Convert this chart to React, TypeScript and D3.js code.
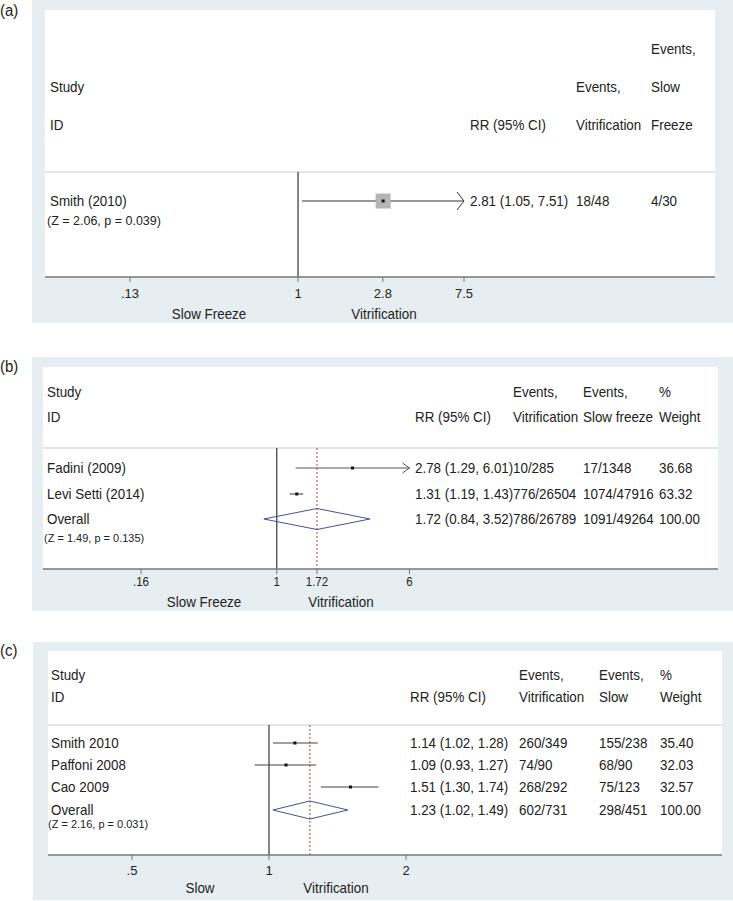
import React from "react";
import * as d3 from "d3";

// ---------- DATA ----------
// Panel (a)
const studiesA = ["Smith (2010)"];
const rrA = [2.81];
const lowA = [1.05];
const highA = [7.51];
const vitA = ["18/48"];
const slowA = ["4/30"];
const zA = "(Z = 2.06, p = 0.039)";
const ticksA = [0.13, 1, 2.8, 7.5];
const tickLabelsA = [".13", "1", "2.8", "7.5"];

// Panel (b)
const studiesB = ["Fadini (2009)", "Levi Setti (2014)"];
const rrB = [2.78, 1.31];
const lowB = [1.29, 1.19];
const highB = [6.01, 1.43];
const vitB = ["10/285", "776/26504"];
const slowB = ["17/1348", "1074/47916"];
const weightB = ["36.68", "63.32"];
const overallB = [1.72, 0.84, 3.52];
const overallTextB = ["786/26789", "1091/49264", "100.00"];
const zB = "(Z = 1.49, p = 0.135)";
const ticksB = [0.16, 1, 1.72, 6];
const tickLabelsB = [".16", "1", "1.72", "6"];

// Panel (c)
const studiesC = ["Smith 2010", "Paffoni 2008", "Cao 2009"];
const rrC = [1.14, 1.09, 1.51];
const lowC = [1.02, 0.93, 1.3];
const highC = [1.28, 1.27, 1.74];
const vitC = ["260/349", "74/90", "268/292"];
const slowC = ["155/238", "68/90", "75/123"];
const weightC = ["35.40", "32.03", "32.57"];
const overallC = [1.23, 1.02, 1.49];
const overallTextC = ["602/731", "298/451", "100.00"];
const zC = "(Z = 2.16, p = 0.031)";
const ticksC = [0.5, 1, 2];
const tickLabelsC = [".5", "1", "2"];

const fmt = (v: number) => v.toFixed(2);
const FONT = "'Liberation Sans', Arial, sans-serif";
const BG = "#e6eef1";
const SX = 0.95;

function T(props: { x: number; y: number; size: number; anchor?: string; children: React.ReactNode }) {
  return (
    <text
      transform={`translate(${props.x},${props.y}) scale(${SX},1)`}
      dy="0.35em"
      fontSize={props.size / SX}
      textAnchor={props.anchor || "start"}
    >
      {props.children}
    </text>
  );
}

type Col = { x: number; lines: string[] };

type PanelProps = {
  label: string;
  labelY: number;
  outer: [number, number, number, number];
  inner: [number, number, number, number];
  headerYs: number[];
  headerCols: Col[];
  studyX: number;
  rrX: number;
  dataXs: number[];
  sepY: number;
  rowYs: number[];
  zY: number;
  tickY: number;
  titleY: number;
  titleXs: [number, number];
  titles: [string, string];
  domain: [number, number];
  range: [number, number];
  ticks: number[];
  tickLabels: string[];
  tickFont: number;
  zFont: number;
  studies: string[];
  rr: number[];
  lo: number[];
  hi: number[];
  cols: string[][];
  overall?: number[];
  overallText?: string[];
  overallYs?: number;
  diamondH?: number;
  zText: string;
  bigBox?: boolean;
  arrowH: number;
  ciColor: string;
};

function Panel(p: PanelProps) {
  const x = d3.scaleLog().domain(p.domain).range(p.range);
  const [ox0, oy0, ox1, oy1] = p.outer;
  const [ix0, iy0, ix1, axisY] = p.inner;
  const fs = 13.4;
  const maxV = p.domain[1];
  const minV = p.domain[0];
  return (
    <g fontFamily={FONT} fill="#222">
      <T x={0} y={p.labelY} size={15}>
        {p.label}
      </T>
      <rect x={ox0} y={oy0} width={ox1 - ox0} height={oy1 - oy0} fill={BG} />
      <rect x={ix0} y={iy0} width={ix1 - ix0} height={axisY - iy0} fill="#fff" />
      {p.headerCols.map((c, ci) =>
        c.lines.map((t, li) =>
          t ? (
            <T key={`h${ci}-${li}`} x={c.x} y={p.headerYs[li]} size={fs}>
              {t}
            </T>
          ) : null
        )
      )}
      <line x1={ix0} x2={ix1} y1={p.sepY} y2={p.sepY} stroke="#d9dee0" strokeWidth={1.5} />
      <line x1={x(1)} x2={x(1)} y1={p.sepY} y2={axisY} stroke="#444" strokeWidth={1.3} />
      {p.overall && (
        <line
          x1={x(p.overall[0])}
          x2={x(p.overall[0])}
          y1={p.sepY}
          y2={axisY}
          stroke="#c0392b"
          strokeWidth={1}
          strokeDasharray="2,2"
        />
      )}
      {p.studies.map((s, i) => {
        const y = p.rowYs[i];
        const lo = Math.max(p.lo[i], minV);
        const hiClip = p.hi[i] > maxV;
        const hi = Math.min(p.hi[i], maxV);
        const xe = x(hi);
        return (
          <g key={s}>
            <T x={p.studyX} y={y} size={fs}>
              {s}
            </T>
            <line x1={x(lo)} x2={xe} y1={y} y2={y} stroke={p.ciColor} strokeWidth={1.2} />
            {hiClip && (
              <path
                d={`M${xe - 7},${y - p.arrowH}L${xe},${y}L${xe - 7},${y + p.arrowH}`}
                fill="none"
                stroke={p.ciColor}
                strokeWidth={1}
              />
            )}
            {p.bigBox && (
              <rect x={x(p.rr[i]) - 7.5} y={y - 7.5} width={15} height={15} fill="#b5b5b5" />
            )}
            <rect x={x(p.rr[i]) - 1.5} y={y - 1.5} width={3} height={3} fill="#111" />
            <T x={p.rrX} y={y} size={fs}>
              {`${fmt(p.rr[i])} (${fmt(p.lo[i])}, ${fmt(p.hi[i])})`}
            </T>
            {p.cols.map((col, ci) => (
              <T key={ci} x={p.dataXs[ci]} y={y} size={fs}>
                {col[i]}
              </T>
            ))}
          </g>
        );
      })}
      {p.overall && p.overallText && p.overallYs !== undefined && (
        <g>
          <T x={p.studyX} y={p.overallYs} size={fs}>
            Overall
          </T>
          <path
            d={`M${x(p.overall[1])},${p.overallYs}L${x(p.overall[0])},${p.overallYs - (p.diamondH || 10)}L${x(
              p.overall[2]
            )},${p.overallYs}L${x(p.overall[0])},${p.overallYs + (p.diamondH || 10)}Z`}
            fill="none"
            stroke="#4d4d9e"
            strokeWidth={1}
          />
          <T x={p.rrX} y={p.overallYs} size={fs}>
            {`${fmt(p.overall[0])} (${fmt(p.overall[1])}, ${fmt(p.overall[2])})`}
          </T>
          {p.overallText.map((t, ci) => (
            <T key={ci} x={p.dataXs[ci]} y={p.overallYs} size={fs}>
              {t}
            </T>
          ))}
        </g>
      )}
      <T x={p.studyX - 3} y={p.zY} size={p.zFont}>
        {p.zText}
      </T>
      <line x1={ix0} x2={ix1} y1={axisY} y2={axisY} stroke="#777" strokeWidth={1.5} />
      {p.ticks.map((t, i) => (
        <g key={t}>
          <line x1={x(t)} x2={x(t)} y1={axisY} y2={axisY + 5} stroke="#777" strokeWidth={1} />
          <T x={x(t)} y={p.tickY} size={p.tickFont} anchor="middle">
            {p.tickLabels[i]}
          </T>
        </g>
      ))}
      <T x={p.titleXs[0]} y={p.titleY} size={fs} anchor="middle">
        {p.titles[0]}
      </T>
      <T x={p.titleXs[1]} y={p.titleY} size={fs} anchor="middle">
        {p.titles[1]}
      </T>
    </g>
  );
}

export default function App() {
  return (
    <div style={{ position: "absolute", left: 0, top: 0 }}>
      <svg width={733} height={901} style={{ display: "block", background: "#fff" }}>
        <Panel
          label="(a)"
          labelY={10}
          outer={[32, 0, 733, 323]}
          inner={[45, 10, 715, 277]}
          headerYs={[49, 87, 125]}
          headerCols={[
            { x: 50, lines: ["", "Study", "ID"] },
            { x: 470, lines: ["", "", "RR (95% CI)"] },
            { x: 576, lines: ["", "Events,", "Vitrification"] },
            { x: 651, lines: ["Events,", "Slow", "Freeze"] },
          ]}
          studyX={50}
          rrX={470}
          dataXs={[576, 651]}
          sepY={172}
          rowYs={[201]}
          zY={220}
          tickY={293}
          titleY={314}
          titleXs={[209, 384]}
          titles={["Slow Freeze", "Vitrification"]}
          domain={[0.13, 7.5]}
          range={[130, 464]}
          ticks={ticksA}
          tickLabels={tickLabelsA}
          tickFont={13}
          zFont={12.5}
          studies={studiesA}
          rr={rrA}
          lo={lowA}
          hi={highA}
          cols={[vitA, slowA]}
          zText={zA}
          bigBox
          arrowH={9}
          ciColor="#333"
        />
        <Panel
          label="(b)"
          labelY={366}
          outer={[32, 357, 733, 611]}
          inner={[43, 367, 718, 569]}
          headerYs={[392, 417]}
          headerCols={[
            { x: 47, lines: ["Study", "ID"] },
            { x: 415, lines: ["", "RR (95% CI)"] },
            { x: 513, lines: ["Events,", "Vitrification"] },
            { x: 583, lines: ["Events,", "Slow freeze"] },
            { x: 659, lines: ["%", "Weight"] },
          ]}
          studyX={47}
          rrX={415}
          dataXs={[513, 583, 659]}
          sepY={448}
          rowYs={[468, 494]}
          zY={538}
          tickY={582}
          titleY={602}
          titleXs={[204, 341]}
          titles={["Slow Freeze", "Vitrification"]}
          domain={[0.16, 6]}
          range={[141, 409.5]}
          ticks={ticksB}
          tickLabels={tickLabelsB}
          tickFont={11.5}
          zFont={11}
          studies={studiesB}
          rr={rrB}
          lo={lowB}
          hi={highB}
          cols={[vitB, slowB, weightB]}
          overall={overallB}
          overallText={overallTextB}
          overallYs={519}
          diamondH={10.5}
          zText={zB}
          arrowH={5}
          ciColor="#555"
        />
        <Panel
          label="(c)"
          labelY={650}
          outer={[33, 642, 733, 900]}
          inner={[48, 651, 722, 855]}
          headerYs={[675, 697]}
          headerCols={[
            { x: 51, lines: ["Study", "ID"] },
            { x: 410, lines: ["", "RR (95% CI)"] },
            { x: 519, lines: ["Events,", "Vitrification"] },
            { x: 599, lines: ["Events,", "Slow"] },
            { x: 660, lines: ["%", "Weight"] },
          ]}
          studyX={51}
          rrX={410}
          dataXs={[519, 599, 660]}
          sepY={725}
          rowYs={[743, 765, 787]}
          zY={824}
          tickY={870}
          titleY={888}
          titleXs={[200, 336]}
          titles={["Slow", "Vitrification"]}
          domain={[0.5, 2]}
          range={[132, 406]}
          ticks={ticksC}
          tickLabels={tickLabelsC}
          tickFont={13}
          zFont={11}
          studies={studiesC}
          rr={rrC}
          lo={lowC}
          hi={highC}
          cols={[vitC, slowC, weightC]}
          overall={overallC}
          overallText={overallTextC}
          overallYs={810}
          diamondH={9}
          zText={zC}
          arrowH={5}
          ciColor="#444"
        />
      </svg>
    </div>
  );
}
